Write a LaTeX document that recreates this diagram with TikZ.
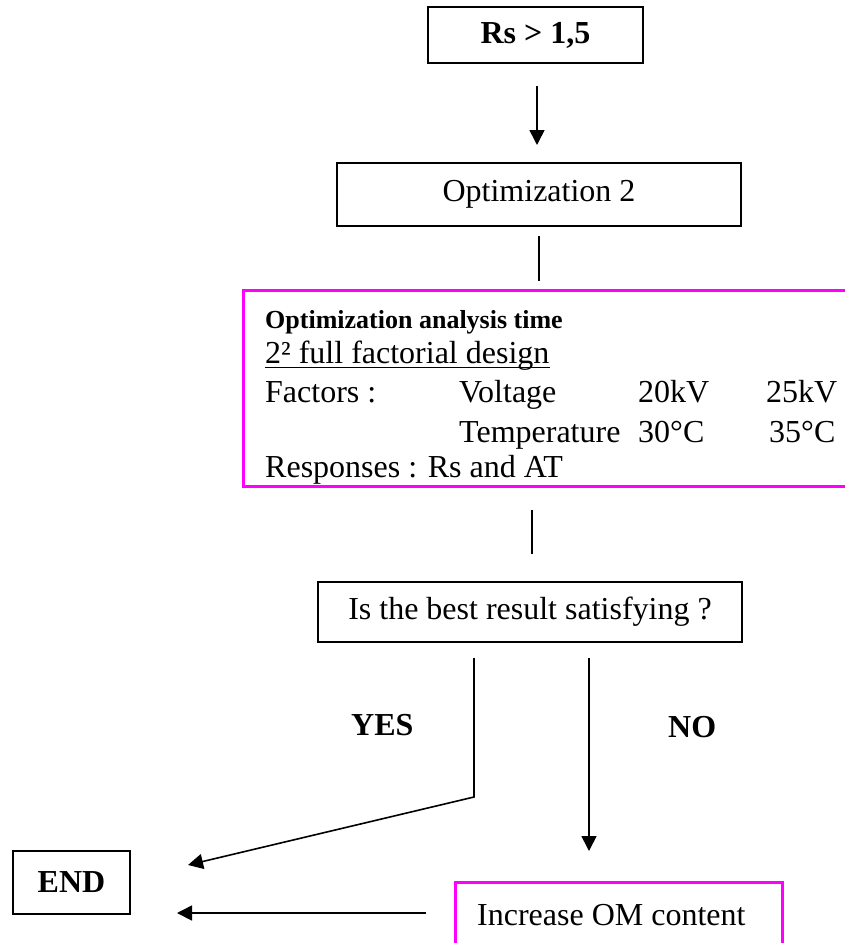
\documentclass[tikz,border=0pt]{standalone}
\usepackage{fontspec}
\setmainfont{Liberation Serif}
\usetikzlibrary{arrows.meta}
\definecolor{boxmag}{RGB}{255,0,255}
\tikzset{
  blackbox/.style={draw=black, line width=2pt, inner sep=0pt, font=\fontsize{32}{38}\selectfont},
  magbox/.style={draw=boxmag, line width=3pt, inner sep=0pt},
  txt/.style={inner sep=0pt, anchor=base west, font=\fontsize{32}{38}\selectfont},
  lbl/.style={inner sep=0pt, anchor=base west, font=\fontsize{32}{38}\selectfont\bfseries},
  conn/.style={draw=black, line width=1.6pt},
  arr/.style={conn, -{Triangle[length=15pt,width=15pt]}}
}
\begin{document}
\begin{tikzpicture}[x=1pt,y=-1pt]
\useasboundingbox (0,0) rectangle (845,943);
\clip (0,0) rectangle (845,943);
% boxes
\node[blackbox, minimum width=215pt, minimum height=56pt, font=\fontsize{32}{38}\selectfont\bfseries] (rs) at (535.5,35) {Rs > 1,5};
\node[blackbox, minimum width=404pt, minimum height=63pt] (opt) at (539,194.5) {Optimization 2};
\node[magbox, minimum width=617pt, minimum height=196pt] (mag) at (551.5,388) {};
\node[blackbox, minimum width=424pt, minimum height=60pt] (is) at (530,612) {Is the best result satisfying ?};
\node[blackbox, minimum width=117pt, minimum height=63pt, font=\fontsize{32}{38}\selectfont\bfseries] (end) at (71.5,882.5) {END};
\node[magbox, minimum width=327pt, minimum height=90pt] (inc) at (618.5,927) {};
\node[txt] (inctext) at (477,925) {Increase OM content};
% text in the magenta box
\node[txt, font=\fontsize{26}{30}\selectfont\bfseries] (h1) at (265,328) {Optimization analysis time};
\node[txt] (l2) at (265,363) {2² full factorial design};
\draw[line width=1.5pt] ([yshift=-4.5pt]l2.base west) -- ([yshift=-4.5pt]l2.base east);
\node[txt] (fac) at (265,402) {Factors :};
\node[txt] (volt) at (459,402) {Voltage};
\node[txt] (v1) at (638,402) {20kV};
\node[txt] (v2) at (766,402) {25kV};
\node[txt] (temp) at (459,442) {Temperature};
\node[txt] (t1) at (638,442) {30°C};
\node[txt] (t2) at (769,442) {35°C};
\node[txt] (resp) at (265,477) {Responses : Rs and AT};
% labels
\node[lbl] (yes) at (351,735) {YES};
\node[lbl] (no) at (668,737) {NO};
% coordinates
\coordinate (rsarr) at ([xshift=1.5pt,yshift=-22pt]rs.south);
\coordinate (ybend) at (474,797);
\coordinate (yend) at (188,865);
\coordinate (noend) at (589,851);
\coordinate (hstart) at (426,913);
\coordinate (hend) at (177,913);
% connectors
\draw[arr] (rsarr) -- ([yshift=17pt]opt.north -| rsarr);
\draw[conn] ([yshift=-9pt]opt.south) -- ([yshift=8pt]opt.south |- mag.north);
\draw[conn] ([xshift=2pt,yshift=27pt]is.north) -- ([xshift=2pt,yshift=-22pt]is.north |- mag.south);
\draw[arr] ([xshift=-56pt,yshift=-15pt]is.south) -- (ybend) -- (yend);
\draw[arr] ([xshift=59pt,yshift=-15pt]is.south) -- (noend);
\draw[arr] (hstart) -- (hend);
\end{tikzpicture}
\end{document}
